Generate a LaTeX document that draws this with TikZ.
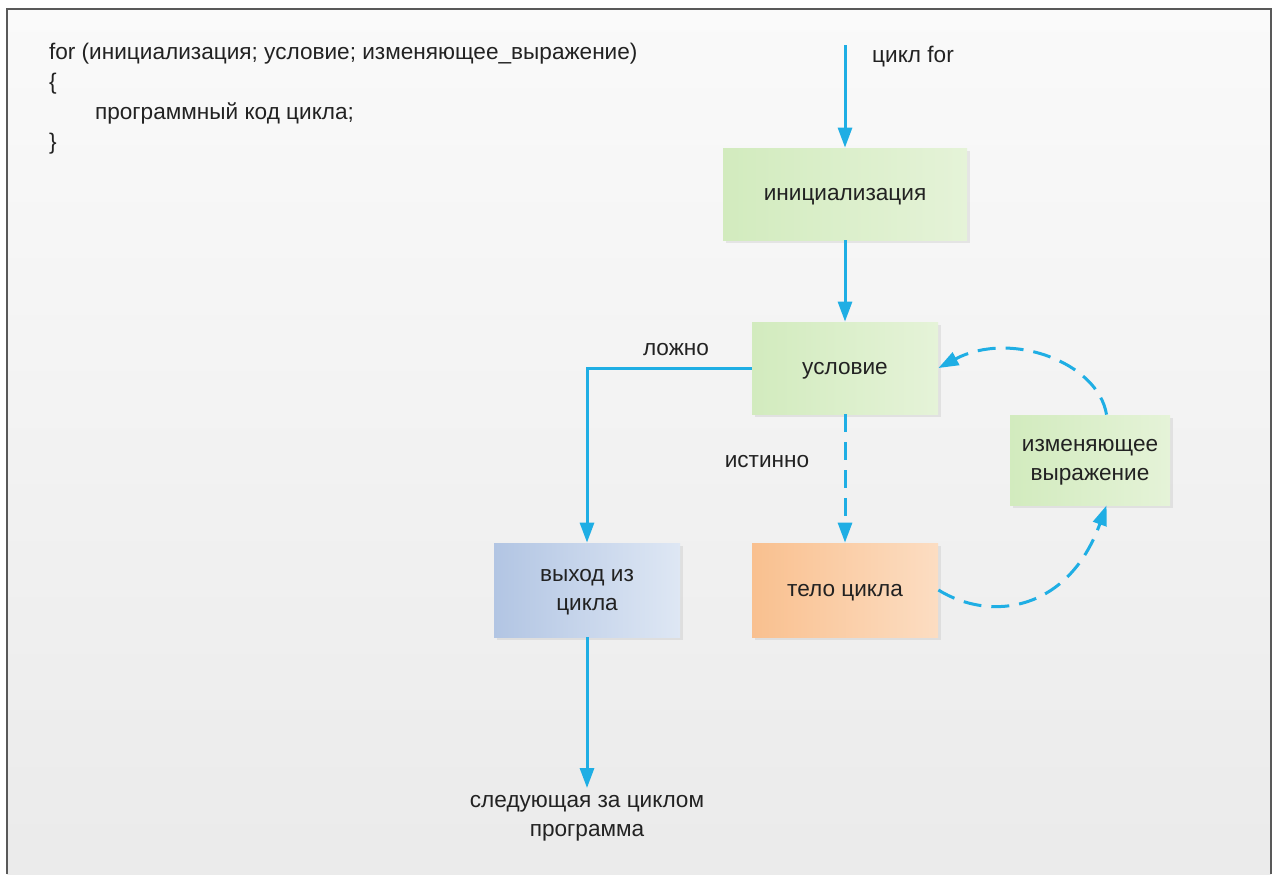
\documentclass[tikz,border=0pt]{standalone}
\usepackage{fontspec}
\setmainfont{Liberation Sans}
\usepackage{tikz}
\usetikzlibrary{positioning,arrows.meta,shadows}
\usepackage{xcolor}

\definecolor{arrowblue}{HTML}{1FAEE4}
\definecolor{txt}{HTML}{222222}
\definecolor{grnA}{HTML}{D2EBBE}
\definecolor{grnB}{HTML}{E5F3D8}
\definecolor{bluA}{HTML}{B2C5E3}
\definecolor{bluB}{HTML}{DEE7F4}
\definecolor{ornA}{HTML}{F9C08F}
\definecolor{ornB}{HTML}{FCDDC2}

\begin{document}
\begin{tikzpicture}[
  x=0.5pt, y=-0.5pt,
  every node/.style={font=\fontsize{11.3}{14.5}\selectfont, text=txt},
  box/.style={rectangle, align=center, inner sep=2pt, text depth=0pt,
    drop shadow={shadow xshift=1.5pt, shadow yshift=-1.5pt, opacity=0.15}},
  grn/.style={box, left color=grnA, right color=grnB},
  blu/.style={box, left color=bluA, right color=bluB},
  orn/.style={box, left color=ornA, right color=ornB},
  arr/.style={draw=arrowblue, line width=1.5pt, -{Triangle[length=10pt,width=7pt]}},
  dsh/.style={arr, dash pattern=on 9pt off 5pt}
]
  \useasboundingbox (0,0) rectangle (1277,874);
  \fill[white] (0,0) rectangle (1277,874);
  \shade[top color=white!98!black, bottom color=white!92!black] (7,9) rectangle (1271,874);
  \draw[line width=1.2pt, black!65] (7,874) -- (7,9) -- (1271,9) -- (1271,874);

  % code of the loop
  \node[anchor=north west, align=left, font=\fontsize{11.3}{15}\selectfont] (code) at (42,36)
    {for (инициализация; условие; изменяющее\_выражение)\\
     \{\\
     \hspace{23pt}программный код цикла;\\
     \}};

  \coordinate (start) at (845,45);
  \node (title) at (913,57) {цикл for};

  \node[grn, minimum width=122pt, minimum height=46pt] (init) at (845,194) {инициализация};
  \node[grn, minimum width=93pt, minimum height=46pt] (cond) at (845,368) {условие};
  \node[blu, minimum width=93pt, minimum height=47pt] (exit) at (587,590) {выход из\\цикла};
  \node[orn, minimum width=93pt, minimum height=47pt] (body) at (845,590) {тело цикла};
  \node[grn, minimum width=80pt, minimum height=45pt] (change) at (1090,460) {изменяющее\\выражение};
  \node[align=center] (next) at (587,818) {следующая за циклом\\программа};

  \node (false) at (676,350) {ложно};
  \node (true) at (767,462) {истинно};

  \draw[arr] (start) -- (init);
  \draw[arr] (init) -- (cond);
  \draw[arr] (cond.west) -| (exit);
  \draw[arr] (exit) -- (next);
  \draw[dsh] (cond) -- (body);
  \draw[dsh] (body.east) .. controls (990,622) and (1068,612) .. (change.-70);
  \draw[dsh] (change.70) .. controls (1098,362) and (1010,330) .. (cond.east);
\end{tikzpicture}
\end{document}
